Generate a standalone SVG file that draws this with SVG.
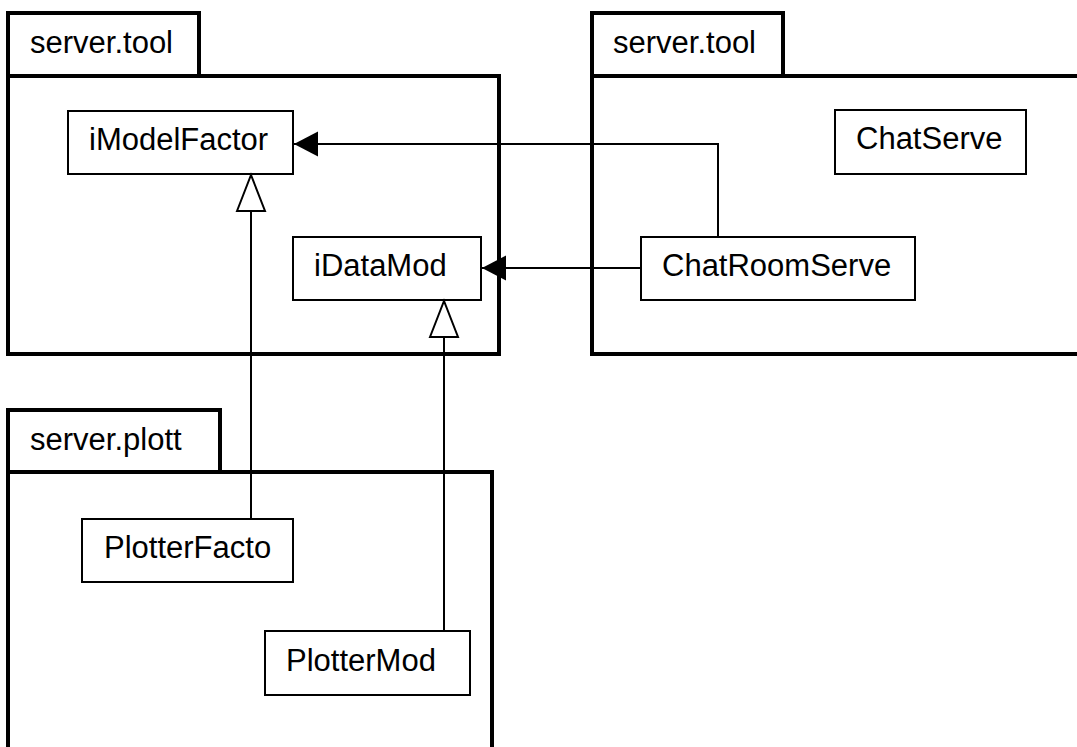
<svg xmlns="http://www.w3.org/2000/svg" width="1077" height="747" viewBox="0 0 1077 747">
<style>
.pkg{fill:#fff;stroke:#000;stroke-width:4}
.cls{fill:#fff;stroke:#000;stroke-width:2}
.lbl{font-family:"Liberation Sans",Arial,sans-serif;font-size:31px;fill:#000}
.con{fill:none;stroke:#000;stroke-width:2}
</style>
<defs>
<marker id="filled" viewBox="0 0 24 25" refX="24" refY="12.5" markerWidth="24" markerHeight="25" markerUnits="userSpaceOnUse" orient="auto" overflow="visible">
<path d="M0,0 L24,12.5 L0,25 Z" fill="#000"/>
</marker>
<marker id="hollow" viewBox="0 0 36 28" refX="36" refY="14" markerWidth="36" markerHeight="28" markerUnits="userSpaceOnUse" orient="auto" overflow="visible">
<path d="M0,0 L36,14 L0,28 Z" fill="#fff" stroke="#000" stroke-width="2"/>
</marker>
</defs>
<rect width="1077" height="747" fill="#fff"/>
<g id="pkg-server-tool-1">
<rect class="pkg" x="8" y="13" width="191" height="63"/>
<rect class="pkg" x="8" y="76" width="491" height="278"/>
<text class="lbl" x="30" y="53">server.tool</text>
</g>
<g id="pkg-server-tool-2">
<rect class="pkg" x="592" y="13" width="191" height="63"/>
<rect class="pkg" x="592" y="76" width="520" height="278"/>
<text class="lbl" x="613" y="53">server.tool</text>
</g>
<g id="pkg-server-plott">
<rect class="pkg" x="8" y="410" width="212" height="62"/>
<rect class="pkg" x="8" y="472" width="484" height="300"/>
<text class="lbl" x="30" y="450">server.plott</text>
</g>
<g id="iModelFactor">
<rect class="cls" x="68" y="111" width="225" height="63"/>
<text class="lbl" x="89" y="150">iModelFactor</text>
</g>
<g id="iDataMod">
<rect class="cls" x="293" y="237" width="188" height="63"/>
<text class="lbl" x="314" y="276">iDataMod</text>
</g>
<g id="ChatServe">
<rect class="cls" x="835" y="110" width="191" height="64"/>
<text class="lbl" x="856" y="149">ChatServe</text>
</g>
<g id="ChatRoomServe">
<rect class="cls" x="641" y="237" width="274" height="63"/>
<text class="lbl" x="662" y="276">ChatRoomServe</text>
</g>
<g id="PlotterFacto">
<rect class="cls" x="82" y="519" width="211" height="63"/>
<text class="lbl" x="104" y="558">PlotterFacto</text>
</g>
<g id="PlotterMod">
<rect class="cls" x="265" y="631" width="205" height="64"/>
<text class="lbl" x="286" y="671">PlotterMod</text>
</g>
<g id="connectors">
<path class="con" d="M718,237 V144 H294" marker-end="url(#filled)"/>
<path class="con" d="M641,268 H482" marker-end="url(#filled)"/>
<path class="con" d="M251,519 V175" marker-end="url(#hollow)"/>
<path class="con" d="M444,631 V301" marker-end="url(#hollow)"/>
</g>
</svg>
